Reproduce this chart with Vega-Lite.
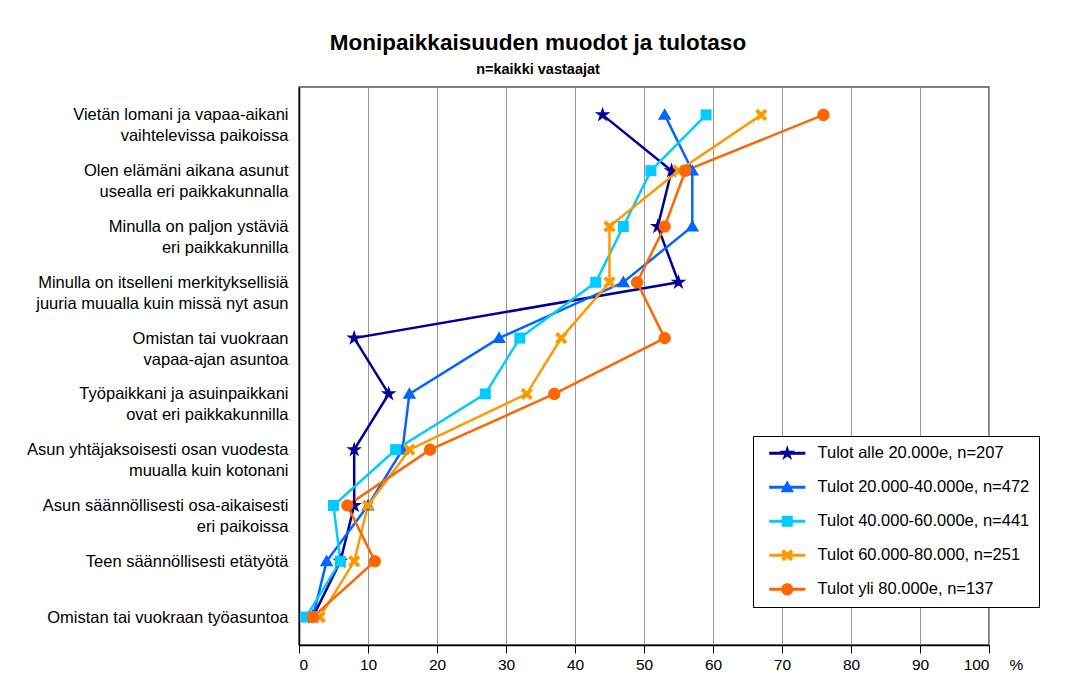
{
  "$schema": "https://vega.github.io/schema/vega-lite/v6.json",
  "width": 690,
  "height": 558,
  "autosize": {"type": "none"},
  "padding": {"left": 299, "top": 87, "right": 80, "bottom": 33},
  "background": "white",
  "title": {
    "text": "Monipaikkaisuuden muodot ja tulotaso",
    "subtitle": "n=kaikki vastaajat",
    "anchor": "middle",
    "frame": "group",
    "dx": -106,
    "font": "Liberation Sans",
    "fontSize": 22.5,
    "fontWeight": "bold",
    "color": "black",
    "subtitleFont": "Liberation Sans",
    "subtitleFontSize": 14.5,
    "subtitleFontWeight": "bold",
    "subtitleColor": "black",
    "offset": 11,
    "subtitlePadding": 8
  },
  "config": {
    "view": {"stroke": "#555", "strokeWidth": 1.5},
    "font": "Liberation Sans"
  },
  "datasets": {
    "cats": [
      {"k": 1, "c": "Vietän lomani ja vapaa-aikani|vaihtelevissa paikoissa"},
      {"k": 2, "c": "Olen elämäni aikana asunut|usealla eri paikkakunnalla"},
      {"k": 3, "c": "Minulla on paljon ystäviä|eri paikkakunnilla"},
      {"k": 4, "c": "Minulla on itselleni merkityksellisiä|juuria muualla kuin missä nyt asun"},
      {"k": 5, "c": "Omistan tai vuokraan|vapaa-ajan asuntoa"},
      {"k": 6, "c": "Työpaikkani ja asuinpaikkani|ovat eri paikkakunnilla"},
      {"k": 7, "c": "Asun yhtäjaksoisesti osan vuodesta|muualla kuin kotonani"},
      {"k": 8, "c": "Asun säännöllisesti osa-aikaisesti|eri paikoissa"},
      {"k": 9, "c": "Teen säännöllisesti etätyötä"},
      {"k": 10, "c": "Omistan tai vuokraan työasuntoa"}
    ]
  },
  "data": {
    "values": [
      {"s": "Tulot alle 20.000e, n=207", "k": 1, "v": 44},
      {"s": "Tulot alle 20.000e, n=207", "k": 2, "v": 54},
      {"s": "Tulot alle 20.000e, n=207", "k": 3, "v": 52},
      {"s": "Tulot alle 20.000e, n=207", "k": 4, "v": 55},
      {"s": "Tulot alle 20.000e, n=207", "k": 5, "v": 8},
      {"s": "Tulot alle 20.000e, n=207", "k": 6, "v": 13},
      {"s": "Tulot alle 20.000e, n=207", "k": 7, "v": 8},
      {"s": "Tulot alle 20.000e, n=207", "k": 8, "v": 8},
      {"s": "Tulot alle 20.000e, n=207", "k": 9, "v": 6},
      {"s": "Tulot alle 20.000e, n=207", "k": 10, "v": 2},
      {"s": "Tulot 20.000-40.000e, n=472", "k": 1, "v": 53},
      {"s": "Tulot 20.000-40.000e, n=472", "k": 2, "v": 57},
      {"s": "Tulot 20.000-40.000e, n=472", "k": 3, "v": 57},
      {"s": "Tulot 20.000-40.000e, n=472", "k": 4, "v": 47},
      {"s": "Tulot 20.000-40.000e, n=472", "k": 5, "v": 29},
      {"s": "Tulot 20.000-40.000e, n=472", "k": 6, "v": 16},
      {"s": "Tulot 20.000-40.000e, n=472", "k": 7, "v": 15},
      {"s": "Tulot 20.000-40.000e, n=472", "k": 8, "v": 10},
      {"s": "Tulot 20.000-40.000e, n=472", "k": 9, "v": 4},
      {"s": "Tulot 20.000-40.000e, n=472", "k": 10, "v": 2},
      {"s": "Tulot 40.000-60.000e, n=441", "k": 1, "v": 59},
      {"s": "Tulot 40.000-60.000e, n=441", "k": 2, "v": 51},
      {"s": "Tulot 40.000-60.000e, n=441", "k": 3, "v": 47},
      {"s": "Tulot 40.000-60.000e, n=441", "k": 4, "v": 43},
      {"s": "Tulot 40.000-60.000e, n=441", "k": 5, "v": 32},
      {"s": "Tulot 40.000-60.000e, n=441", "k": 6, "v": 27},
      {"s": "Tulot 40.000-60.000e, n=441", "k": 7, "v": 14},
      {"s": "Tulot 40.000-60.000e, n=441", "k": 8, "v": 5},
      {"s": "Tulot 40.000-60.000e, n=441", "k": 9, "v": 6},
      {"s": "Tulot 40.000-60.000e, n=441", "k": 10, "v": 1},
      {"s": "Tulot 60.000-80.000, n=251", "k": 1, "v": 67},
      {"s": "Tulot 60.000-80.000, n=251", "k": 2, "v": 55},
      {"s": "Tulot 60.000-80.000, n=251", "k": 3, "v": 45},
      {"s": "Tulot 60.000-80.000, n=251", "k": 4, "v": 45},
      {"s": "Tulot 60.000-80.000, n=251", "k": 5, "v": 38},
      {"s": "Tulot 60.000-80.000, n=251", "k": 6, "v": 33},
      {"s": "Tulot 60.000-80.000, n=251", "k": 7, "v": 16},
      {"s": "Tulot 60.000-80.000, n=251", "k": 8, "v": 10},
      {"s": "Tulot 60.000-80.000, n=251", "k": 9, "v": 8},
      {"s": "Tulot 60.000-80.000, n=251", "k": 10, "v": 3},
      {"s": "Tulot yli 80.000e, n=137", "k": 1, "v": 76},
      {"s": "Tulot yli 80.000e, n=137", "k": 2, "v": 56},
      {"s": "Tulot yli 80.000e, n=137", "k": 3, "v": 53},
      {"s": "Tulot yli 80.000e, n=137", "k": 4, "v": 49},
      {"s": "Tulot yli 80.000e, n=137", "k": 5, "v": 53},
      {"s": "Tulot yli 80.000e, n=137", "k": 6, "v": 37},
      {"s": "Tulot yli 80.000e, n=137", "k": 7, "v": 19},
      {"s": "Tulot yli 80.000e, n=137", "k": 8, "v": 7},
      {"s": "Tulot yli 80.000e, n=137", "k": 9, "v": 11},
      {"s": "Tulot yli 80.000e, n=137", "k": 10, "v": 2}
    ]
  },
  "transform": [
    {"lookup": "k", "from": {"data": {"name": "cats"}, "key": "k", "fields": ["c"]}}
  ],
  "encoding": {
    "x": {
      "field": "v",
      "type": "quantitative",
      "scale": {"domain": [0, 100], "nice": false, "zero": true},
      "axis": {
        "values": [0, 10, 20, 30, 40, 50, 60, 70, 80, 90, 100],
        "grid": true,
        "gridColor": "#999",
        "gridWidth": 1,
        "ticks": true,
        "tickColor": "black",
        "tickSize": 8,
        "domainColor": "black",
        "domainWidth": 1.5,
        "labelFont": "Liberation Sans",
        "labelFontSize": 15.5,
        "labelColor": "black",
        "labelPadding": 4,
        "title": "%",
        "titleX": 710,
        "titleY": 19,
        "titleAlign": "left",
        "titleBaseline": "middle",
        "titleFont": "Liberation Sans",
        "titleFontSize": 15.5,
        "titleFontWeight": "normal",
        "titleColor": "black"
      }
    },
    "y": {
      "field": "c",
      "type": "nominal",
      "sort": {"field": "k", "op": "min", "order": "ascending"},
      "scale": {"type": "point", "padding": 0.5},
      "axis": {
        "title": null,
        "ticks": false,
        "grid": false,
        "domainColor": "black",
        "domainWidth": 1.5,
        "labelFont": "Liberation Sans",
        "labelFontSize": 16.5,
        "labelColor": "black",
        "labelPadding": 11,
        "labelLineHeight": 21,
        "labelLimit": 400,
        "labelExpr": "split(datum.label, '|')"
      }
    },
    "order": {"field": "k", "type": "quantitative"}
  },
  "layer": [
    {
      "mark": {"type": "line", "strokeWidth": 2.5},
      "encoding": {
        "color": {
          "field": "s",
          "type": "nominal",
          "scale": {
            "domain": ["Tulot alle 20.000e, n=207", "Tulot 20.000-40.000e, n=472", "Tulot 40.000-60.000e, n=441", "Tulot 60.000-80.000, n=251", "Tulot yli 80.000e, n=137"],
            "range": ["#000099", "#0066ff", "#00ccff", "#ff9900", "#ff6600"]
          }
        }
      }
    },
    {
      "mark": {"type": "point", "filled": true, "opacity": 1, "size": 150},
      "encoding": {
        "color": {"field": "s", "type": "nominal"},
        "shape": {
          "condition": [
            {"test": "datum.s === 'Tulot alle 20.000e, n=207'", "value": "M0,-1.35L0.301,-0.415L1.284,-0.417L0.488,0.158L0.794,1.092L0,0.513L-0.794,1.092L-0.488,0.158L-1.284,-0.417L-0.301,-0.415Z"},
            {"test": "datum.s === 'Tulot 20.000-40.000e, n=472'", "value": "M0,-1.1L1.1,0.8L-1.1,0.8Z"},
            {"test": "datum.s === 'Tulot 40.000-60.000e, n=441'", "value": "M-0.9,-0.9H0.9V0.9H-0.9Z"},
            {"test": "datum.s === 'Tulot 60.000-80.000, n=251'", "value": "M-1,-0.55L-0.55,-1L0,-0.45L0.55,-1L1,-0.55L0.45,0L1,0.55L0.55,1L0,0.45L-0.55,1L-1,0.55L-0.45,0Z"}
          ],
          "value": "M1,0A1,1 0 1,1 -1,0A1,1 0 1,1 1,0Z"
        }
      }
    },
    {
      "transform": [{"filter": "datum.v < 0"}],
      "mark": {"type": "point", "filled": true, "opacity": 1, "size": 150},
      "encoding": {
        "color": {
          "field": "s",
          "type": "nominal",
          "legend": {
            "title": null,
            "orient": "none",
            "legendX": 454,
            "legendY": 349,
            "strokeColor": "black",
            "fillColor": "white",
            "padding": 9,
            "rowPadding": 17,
            "symbolSize": 150,
            "symbolOffset": 17,
            "symbolStrokeWidth": 0,
            "labelOffset": 22,
            "labelFont": "Liberation Sans",
            "labelFontSize": 16.5,
            "labelColor": "black",
            "labelLimit": 400
          }
        },
        "shape": {
          "field": "s",
          "type": "nominal",
          "scale": {
            "domain": ["Tulot alle 20.000e, n=207", "Tulot 20.000-40.000e, n=472", "Tulot 40.000-60.000e, n=441", "Tulot 60.000-80.000, n=251", "Tulot yli 80.000e, n=137"],
            "range": [
              "M0,-1.35L0.301,-0.415L1.284,-0.417L0.488,0.158L0.794,1.092L0,0.513L-0.794,1.092L-0.488,0.158L-1.284,-0.417L-0.301,-0.415ZM-2.95,-0.25H2.95V0.25H-2.95Z",
              "M0,-1.1L1.1,0.8L-1.1,0.8ZM-2.95,-0.25H2.95V0.25H-2.95Z",
              "M-0.9,-0.9H0.9V0.9H-0.9ZM-2.95,-0.25H2.95V0.25H-2.95Z",
              "M-1,-0.55L-0.55,-1L0,-0.45L0.55,-1L1,-0.55L0.45,0L1,0.55L0.55,1L0,0.45L-0.55,1L-1,0.55L-0.45,0ZM-2.95,-0.25H2.95V0.25H-2.95Z",
              "M1,0A1,1 0 1,1 -1,0A1,1 0 1,1 1,0ZM-2.95,-0.25H2.95V0.25H-2.95Z"
            ]
          },
          "legend": {
            "title": null,
            "orient": "none",
            "legendX": 454,
            "legendY": 349,
            "strokeColor": "black",
            "fillColor": "white",
            "padding": 9,
            "rowPadding": 17,
            "symbolSize": 150,
            "symbolOffset": 17,
            "symbolStrokeWidth": 0,
            "labelOffset": 22,
            "labelFont": "Liberation Sans",
            "labelFontSize": 16.5,
            "labelColor": "black",
            "labelLimit": 400
          }
        }
      }
    }
  ]
}
